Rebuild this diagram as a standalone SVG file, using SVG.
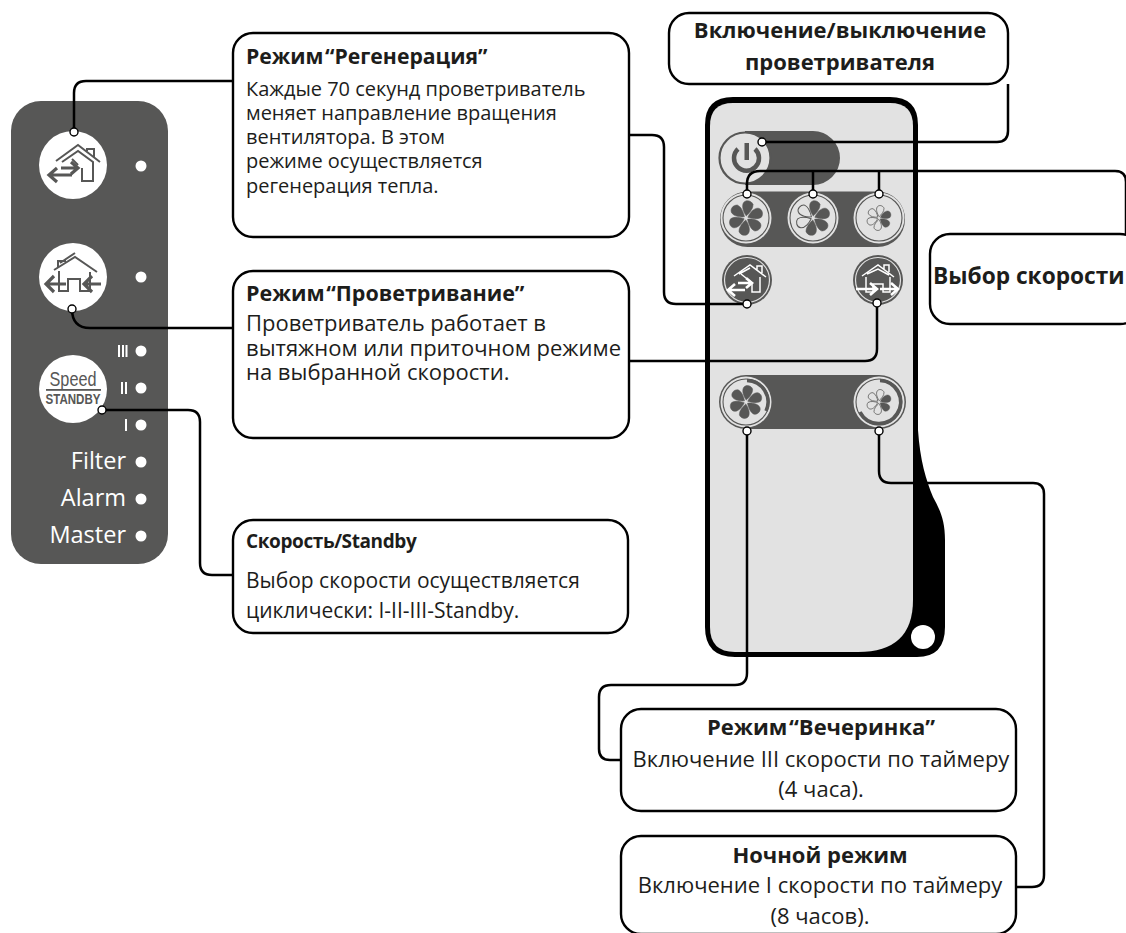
<svg xmlns="http://www.w3.org/2000/svg" width="1126" height="933" viewBox="0 0 1126 933">
<style>
text{font-family:"Open Sans","Noto Sans",sans-serif;fill:#1d1d1b}
.t20{font-size:20px;letter-spacing:-.02px}.t21{font-size:21px}.t22{font-size:22px}.b{font-size:22px;font-weight:700}.q{word-spacing:-4px}.m{text-anchor:middle}
.box{fill:#fff;stroke:#000;stroke-width:2.4}
.c{fill:none;stroke:#000;stroke-width:2.5}
.d{fill:#fff;stroke:#000;stroke-width:1.4}
.dk{fill:#575756}.w{fill:#fff}
.lbl{fill:#fff;font-size:23.5px;text-anchor:end}
.ring{fill:#e2e2e2}
.ring2{fill:none;stroke:#575756;stroke-width:1.1}
.hl{fill:none;stroke:#575756;stroke-width:2}
.ar{fill:none;stroke:#575756;stroke-width:3.2}
.hw{fill:none;stroke:#fff;stroke-width:1.5}
.arw{fill:none;stroke:#fff;stroke-width:2.6}
.o{fill:#e2e2e2;stroke:#575756;stroke-width:1}
.s{fill:#575756;stroke:#575756;stroke-width:.5}
</style>
<defs>
<path id="p" d="M0,-2C-3,-5 -6.500,-11 -4.500,-15C-2.500,-18.500 3,-18 5,-14.500C6,-10 2.500,-5 0,-2Z"/>
</defs>
<g id="left-panel">
<rect x="11" y="101" width="157" height="463" rx="30" class="dk"/>
<circle cx="73" cy="165" r="34" class="w"/>
<circle cx="73" cy="277" r="34" class="w"/>
<circle cx="73" cy="389" r="34" class="w"/>
<g class="hl"><path d="M56,161L78,145L100,162M87,151V149H94V157"/><path d="M62,162L78,151L93,162V181H82V168M72,159L78,165"/></g>
<path d="M50,175H72M57,168L49,175L57,182M61,168H77M71,162L78,168L71,174" class="ar"/>
<g class="hl"><path d="M54,270L75,257L97,272M58,267V261H65V262"/><path d="M60,263L75,253M59,271V291H68V279H80V291H90V272"/></g>
<path d="M47,284H66M54,276L46,284L54,292M101,284H84M92,276L84,284L92,292" class="ar"/>
<text x="73" y="386" text-anchor="middle" style="font-family:'Liberation Sans',sans-serif;font-size:21px;fill:#575756" textLength="47" lengthAdjust="spacingAndGlyphs">Speed</text>
<rect x="46" y="389" width="55" height="1.8" class="dk"/>
<text x="73" y="404" text-anchor="middle" style="font-family:'Liberation Sans',sans-serif;font-size:14px;font-weight:700;fill:#575756" textLength="55" lengthAdjust="spacingAndGlyphs">STANDBY</text>
<g class="w"><circle cx="141" cy="166" r="5.500"/><circle cx="141" cy="277" r="5.500"/><circle cx="141" cy="351" r="5.500"/><circle cx="141" cy="388" r="5.500"/><circle cx="141" cy="425" r="5.500"/><circle cx="141" cy="462" r="5.500"/><circle cx="141" cy="499" r="5.500"/><circle cx="141" cy="536" r="5.500"/>
<rect x="118" y="345" width="2" height="12"/><rect x="122" y="345" width="2" height="12"/><rect x="125.500" y="345" width="2" height="12"/>
<rect x="121" y="382" width="2" height="12"/><rect x="125" y="382" width="2" height="12"/><rect x="125" y="419" width="2" height="12"/></g>
<text x="126" y="469" class="lbl">Filter</text><text x="126" y="506" class="lbl">Alarm</text><text x="126" y="543" class="lbl">Master</text>
</g>
<g id="remote">
<path d="M733,97H890Q918,97 918,125V430C920,460 926,480 933,497C940,510 945,520 945,540V627Q945,657 917,657H735Q705,657 705,627V125Q705,97 733,97Z" fill="#000"/>
<path d="M733,103H890Q913,103 913,126V600Q913,652 858,652H735Q710,652 710,627V126Q710,103 733,103Z" fill="#e2e2e2"/>
<circle cx="923" cy="637" r="12" class="w"/>
<path d="M745,131H813A27,27 0 0 1 813,185H745Z" class="dk"/>
<rect x="720" y="191.500" width="185" height="55.500" rx="27.500" class="dk"/>
<rect x="719" y="375" width="187" height="54" rx="27" class="dk"/>
<circle cx="745" cy="158" r="25.500" fill="#e2e2e2" stroke="#575756" stroke-width="2.200"/>
<path d="M738,149A12.500,12.500 0 1 0 755,149" fill="none" stroke="#575756" stroke-width="4.500"/><rect x="744.500" y="143" width="4.500" height="17" class="dk"/>
<g class="ring"><circle cx="746" cy="218" r="25.500"/><circle cx="813" cy="218" r="25.500"/><circle cx="879" cy="218" r="25.500"/><circle cx="746" cy="402" r="25.500"/><circle cx="879" cy="402" r="25.500"/></g>
<g class="ring2"><circle cx="746" cy="218" r="23"/><circle cx="813" cy="218" r="23"/><circle cx="879" cy="218" r="23"/><circle cx="746" cy="402" r="23"/><circle cx="879" cy="402" r="23"/></g>
<g transform="translate(746,218) rotate(8)"><use href="#p" class="s"/><use href="#p" class="s" transform="rotate(60)"/><use href="#p" class="s" transform="rotate(120)"/><use href="#p" class="s" transform="rotate(180)"/><use href="#p" class="s" transform="rotate(240)"/><use href="#p" class="s" transform="rotate(300)"/></g>
<g transform="translate(813,218) rotate(8)"><use href="#p" class="s"/><use href="#p" class="s" transform="rotate(60)"/><use href="#p" class="s" transform="rotate(120)"/><use href="#p" class="s" transform="rotate(180)"/><use href="#p" class="o" transform="rotate(240)"/><use href="#p" class="o" transform="rotate(300)"/></g>
<g transform="translate(879,218) rotate(8) scale(.72)"><use href="#p" class="o"/><use href="#p" class="s" transform="rotate(60)"/><use href="#p" class="s" transform="rotate(120)"/><use href="#p" class="o" transform="rotate(180)"/><use href="#p" class="o" transform="rotate(240)"/><use href="#p" class="o" transform="rotate(300)"/></g>
<g transform="translate(746,402) rotate(8) scale(.95)"><use href="#p" class="s"/><use href="#p" class="s" transform="rotate(60)"/><use href="#p" class="s" transform="rotate(120)"/><use href="#p" class="s" transform="rotate(180)"/><use href="#p" class="s" transform="rotate(240)"/><use href="#p" class="s" transform="rotate(300)"/></g>
<g transform="translate(879,402) rotate(8) scale(.72)"><use href="#p" class="o"/><use href="#p" class="s" transform="rotate(60)"/><use href="#p" class="s" transform="rotate(120)"/><use href="#p" class="o" transform="rotate(180)"/><use href="#p" class="o" transform="rotate(240)"/><use href="#p" class="o" transform="rotate(300)"/></g>
<path d="M747,380.500A21.500,21.500 0 0 1 766,411" fill="none" stroke="#575756" stroke-width="3.500"/>
<path d="M880,380.500A21.500,21.500 0 1 1 860,412" fill="none" stroke="#575756" stroke-width="3.500"/>
<g class="dk"><circle cx="747" cy="280" r="25"/><circle cx="878" cy="280" r="25"/></g>
<g fill="none" stroke="#e2e2e2" stroke-width="1.200"><circle cx="747" cy="280" r="22.500"/><circle cx="878" cy="280" r="22.500"/></g>
<g class="hw"><path d="M734,276L750,265L766,277M757,270V266H762V273M760,277V292H752V284M746,278L741,274M739,274L750,268"/><path d="M862,276L878,265L894,277M884,269V265H889V272M866,277V292H873V284H883V292H890V277M867,274L878,269L889,275"/></g>
<path d="M729,290H745M735,284L728,290L735,296M738,283H751M746,278L752,283L746,288M856,289H876M870,283L877,289L870,295M880,289H897M891,283L898,289L891,295" class="arw"/>
</g>
<g id="connectors">
<path class="c" d="M74,131V93Q74,81 86,81H233"/>
<path class="c" d="M72,309Q72,328 90,328H233"/>
<path class="c" d="M102,410H188Q200,410 200,422V563Q200,575 212,575H233"/>
<path class="c" d="M629,135H652Q664,135 664,147V292Q664,304 676,304H747"/>
<path class="c" d="M629,361H865Q877,361 877,349V303"/>
<path class="c" d="M762,142H997Q1008,142 1008,131V84"/>
<path class="c" d="M747,194V184Q747,171 760,171H1115Q1126,171 1126,182V234"/>
<path class="c" d="M813,194V171M879,194V171"/>
<path class="c" d="M879,431V471Q879,483 891,483H1033Q1044,483 1044,494V875Q1044,887 1032,887H1016"/>
<path class="c" d="M747,431V673Q747,685 735,685H611Q599,685 599,697V749Q599,760 610,760H622"/>
</g>
<g id="dots">
<g class="d"><circle cx="74" cy="132" r="4"/><circle cx="72" cy="309" r="4"/><circle cx="102" cy="410" r="4"/><circle cx="762" cy="142" r="4"/><circle cx="747" cy="194" r="4"/><circle cx="813" cy="194" r="4"/><circle cx="879" cy="194" r="4"/><circle cx="747" cy="304" r="4"/><circle cx="877" cy="303" r="4"/><circle cx="747" cy="431" r="4"/><circle cx="879" cy="431" r="4"/></g>
</g>
<g id="box-regen">
<rect x="233" y="33" width="396" height="204" rx="20" class="box"/>
<text x="246" y="64" class="q" style="font-size:21.200px;font-weight:700">Режим “Регенерация”</text>
<text class="t20"><tspan x="246" y="96">Каждые 70 секунд проветриватель</tspan><tspan x="246" y="120">меняет направление вращения</tspan><tspan x="246" y="144">вентилятора. В этом</tspan><tspan x="246" y="168">режиме осуществляется</tspan><tspan x="246" y="193">регенерация тепла.</tspan></text>
</g>
<g id="box-vent">
<rect x="233" y="271" width="396" height="167" rx="20" class="box"/>
<text x="246" y="301" class="q" style="font-size:21.500px;font-weight:700">Режим “Проветривание”</text>
<text class="t22"><tspan x="246" y="331">Проветриватель работает в</tspan><tspan x="246" y="356">вытяжном или приточном режиме</tspan><tspan x="246" y="380">на выбранной скорости.</tspan></text>
</g>
<g id="box-speed">
<rect x="233" y="520" width="395" height="113" rx="20" class="box"/>
<text x="246" y="548" style="font-size:19px;font-weight:700;letter-spacing:-.4px">Скорость/Standby</text>
<text class="t21"><tspan x="246" y="588">Выбор скорости осуществляется</tspan><tspan x="246" y="618">циклически: I-II-III-Standby.</tspan></text>
</g>
<g id="box-power">
<rect x="669" y="13" width="339" height="71" rx="20" class="box"/>
<text class="b m"><tspan x="840" y="38">Включение/выключение</tspan><tspan x="840" y="70">проветривателя</tspan></text>
</g>
<g id="box-select">
<rect x="930" y="234" width="210" height="90" rx="20" class="box"/>
<text x="933" y="284" style="font-size:22.700px;font-weight:700">Выбор скорости</text>
</g>
<g id="box-party">
<rect x="621" y="709" width="395" height="102" rx="20" class="box"/>
<text class="m"><tspan x="821" y="735" class="b q">Режим “Вечеринка”</tspan><tspan x="821" y="767" class="t22">Включение III скорости по таймеру</tspan><tspan x="821" y="797" class="t22">(4 часа).</tspan></text>
</g>
<g id="box-night">
<rect x="621" y="836" width="395" height="98" rx="20" class="box"/>
<text class="m"><tspan x="820" y="863" class="b">Ночной режим</tspan><tspan x="820" y="893" class="t22">Включение I скорости по таймеру</tspan><tspan x="820" y="924" class="t22">(8 часов).</tspan></text>
</g>
</svg>
